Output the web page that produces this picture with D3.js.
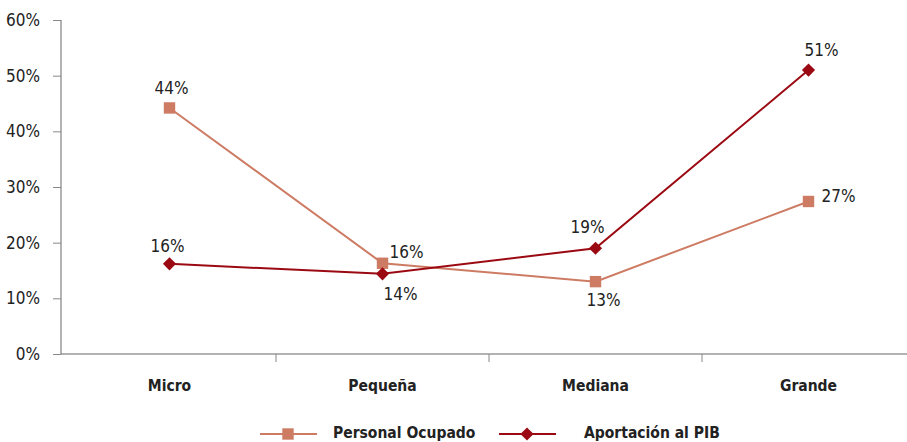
<!DOCTYPE html>
<html><head><meta charset="utf-8">
<script src="https://cdn.jsdelivr.net/npm/d3@7"></script>
<style>
body{margin:0;background:#fff;}
text{font-family:"Liberation Sans Narrow","DejaVu Sans Condensed","Arial Narrow",sans-serif;}
</style></head>
<body><svg id="c" width="907" height="442"></svg>
<script>
const categories = ["Micro","Pequeña","Mediana","Grande"];
const personalOcupado = [44.2, 16.3, 13.0, 27.4];
const aportacionPIB = [16.2, 14.4, 19.0, 51.0];
const yTicks = [0,10,20,30,40,50,60];
const seriesNames = ["Personal Ocupado","Aportación al PIB"];

const cLight = "#CD7B63", cDark = "#9B0A12";
const svg = d3.select("#c");
const x = d3.scaleBand().domain(categories).range([63, 915]);
const y = d3.scaleLinear().domain([0,60]).range([354, 20]);

// y axis
const ya = svg.append("g").attr("transform","translate(61,0)")
  .call(d3.axisLeft(y).tickValues(yTicks).tickFormat(d=>d+"%").tickSize(8).tickPadding(13));
ya.select(".domain").attr("stroke","#666").attr("d","M0,20V354");
ya.selectAll(".tick line").attr("stroke","#888");
ya.selectAll("text").attr("font-size",17).attr("fill","#222");

// x axis
const xa = svg.append("g").attr("transform","translate(0,354)")
  .call(d3.axisBottom(x).tickSize(0).tickPadding(26));
xa.select(".domain").attr("stroke","#666").attr("d","M61,0H907");
xa.selectAll("text").attr("font-size",15.5).attr("font-weight","bold").attr("fill","#222");
// boundary ticks between categories
svg.append("g").selectAll("line").data(categories.slice(1)).join("line")
  .attr("x1",d=>x(d)).attr("x2",d=>x(d)).attr("y1",354).attr("y2",362).attr("stroke","#888");

const cx = d=>x(d)+x.bandwidth()/2;
const line = d3.line().x((d,i)=>cx(categories[i])).y(d=>y(d));

svg.append("path").datum(personalOcupado).attr("d",line).attr("fill","none").attr("stroke",cLight).attr("stroke-width",2);
svg.append("path").datum(aportacionPIB).attr("d",line).attr("fill","none").attr("stroke",cDark).attr("stroke-width",2);

const sq = d3.symbol().type(d3.symbolSquare).size(130);
const dm = d3.symbol().type(d3.symbolDiamond2).size(110);
svg.append("g").selectAll("path").data(personalOcupado).join("path")
  .attr("d",sq).attr("fill",cLight)
  .attr("transform",(d,i)=>`translate(${cx(categories[i])},${y(d)})`);
svg.append("g").selectAll("path").data(aportacionPIB).join("path")
  .attr("d",dm).attr("fill",cDark)
  .attr("transform",(d,i)=>`translate(${cx(categories[i])},${y(d)})`);

// data labels: offsets per point
const offP = [[2,-19],[24,-10],[8,19],[30,-4]];
const offA = [[-2,-17],[18,21],[-8,-20],[13,-19]];
function labels(data, offs){
  svg.append("g").selectAll("text").data(data).join("text")
    .attr("x",(d,i)=>cx(categories[i])+offs[i][0])
    .attr("y",(d,i)=>y(d)+offs[i][1])
    .attr("text-anchor","middle").attr("dominant-baseline","middle")
    .attr("font-size",17).attr("fill","#222")
    .text(d=>Math.round(d)+"%");
}
labels(personalOcupado, offP);
labels(aportacionPIB, offA);

// legend
const lg = svg.append("g");
const legendItems = [
  {name:seriesNames[0], color:cLight, sym:sq, x0:260, tx:333},
  {name:seriesNames[1], color:cDark, sym:dm, x0:499, tx:584}
];
legendItems.forEach(it=>{
  lg.append("line").attr("x1",it.x0).attr("x2",it.x0+57).attr("y1",434).attr("y2",434).attr("stroke",it.color).attr("stroke-width",2);
  lg.append("path").attr("d",it.sym).attr("fill",it.color).attr("transform",`translate(${it.x0+28},434)`);
  lg.append("text").attr("x",it.tx).attr("y",433).attr("dominant-baseline","middle")
    .attr("font-size",15.5).attr("font-weight","bold").attr("fill","#222").text(it.name);
});
</script></body></html>
